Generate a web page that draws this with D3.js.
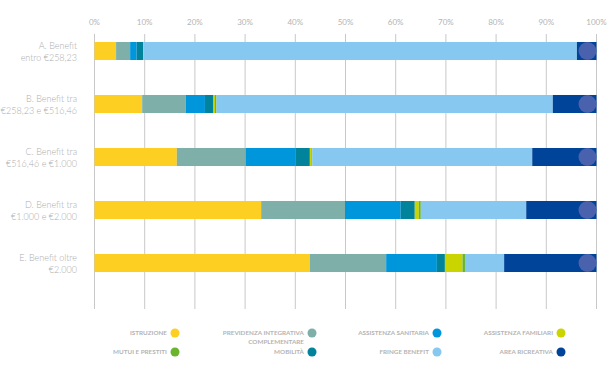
<!DOCTYPE html>
<html><head><meta charset="utf-8">
<script src="https://cdn.jsdelivr.net/npm/d3@7/dist/d3.min.js"></script>
<style>
html,body{margin:0;padding:0;background:#fff;}
svg{display:block;font-family:"Lato","Open Sans",sans-serif;}
</style></head>
<body><svg id="c" width="609" height="365"></svg>
<script>
const categories = [
  ["A. Benefit", "entro €258,23"],
  ["B. Benefit tra", "€258,23 e €516,46"],
  ["C.  Benefit tra", "€516,46 e €1.000"],
  ["D. Benefit tra", "€1.000 e €2.000"],
  ["E. Benefit oltre", "€2.000"]
];
const seriesNames = ["ISTRUZIONE","PREVIDENZA INTEGRATIVA COMPLEMENTARE","ASSISTENZA SANITARIA","MOBILITÀ","ASSISTENZA FAMILIARI","MUTUI E PRESTITI","FRINGE BENEFIT","AREA RICREATIVA"];
const seriesColors = ["#fdcf22","#7fafa9","#0096dc","#00839b","#c9d400","#6ab42e","#86c8ef","#00449a"];
const istruzione  = [4.3, 9.5, 16.4, 33.2, 42.9];
const previdenza  = [2.8, 8.7, 13.7, 16.7, 15.2];
const sanitaria   = [1.3, 3.8, 10.0, 11.1, 10.1];
const mobilita    = [1.3, 1.7, 2.8, 2.8, 1.6];
const familiari   = [0.0, 0.3, 0.3, 0.8, 3.5];
const mutui       = [0.0, 0.3, 0.2, 0.4, 0.5];
const fringe      = [86.4, 67.0, 43.8, 21.0, 7.8];
const ricreativa  = [3.9, 8.7, 12.8, 14.0, 18.4];
const tickValues = [0,10,20,30,40,50,60,70,80,90,100];
const tickLabels = ["0%","10%","20%","30%","40%","50%","60%","70%","80%","90%","100%"];
const legendLayout = [
  {s:0,col:0,row:0},{s:1,col:1,row:0},{s:2,col:2,row:0},{s:4,col:3,row:0},
  {s:5,col:0,row:1},{s:3,col:1,row:1},{s:6,col:2,row:1},{s:7,col:3,row:1}
];

const values = [istruzione, previdenza, sanitaria, mobilita, familiari, mutui, fringe, ricreativa];
const svg = d3.select("#c");
const x = d3.scaleLinear().domain([0,100]).range([94.5,596.5]);
const y = d3.scaleBand().domain(d3.range(categories.length)).range([24.5,289.5]).paddingInner(0.66).paddingOuter(0.33);

svg.append("g").selectAll("line").data(tickValues).join("line")
  .attr("x1",d=>x(d)).attr("x2",d=>x(d)).attr("y1",34).attr("y2",309)
  .attr("stroke","#c8c8c8").attr("stroke-width",1);
svg.append("g").selectAll("text").data(tickValues).join("text")
  .attr("x",d=>x(d)).attr("y",24.5).attr("text-anchor","middle")
  .attr("font-size",8).attr("fill","#b4b4b4").text((d,i)=>tickLabels[i]);

const rows = categories.map((c,i)=>{
  let acc=0; const segs=[];
  values.forEach((arr,s)=>{ segs.push({s, x0:acc, x1:acc+arr[i]}); acc+=arr[i]; });
  const tot = acc; segs.forEach(d=>{d.x0=d.x0/tot*100; d.x1=d.x1/tot*100;});
  return segs;
});
const bh = y.bandwidth();
rows.forEach((segs,i)=>{
  svg.append("g").selectAll("rect").data(segs.filter(d=>d.x1>d.x0)).join("rect")
    .attr("x",d=>x(d.x0)).attr("width",d=>x(d.x1)-x(d.x0))
    .attr("y",y(i)).attr("height",bh).attr("fill",d=>seriesColors[d.s]);
  svg.append("circle").attr("cx",x(100)-9).attr("cy",y(i)+bh/2).attr("r",9).attr("fill","#4a61ae");
});

categories.forEach((lines,i)=>{
  const t = svg.append("text").attr("text-anchor","end").attr("font-size",9).attr("font-weight",300).attr("fill","#adadad");
  lines.forEach((l,j)=>t.append("tspan").attr("x",77).attr("y",y(i)+bh/2-2+j*11.5).text(l));
});

const colX = [175, 312, 437, 561];
const rowY = [333, 352];
legendLayout.forEach(it=>{
  const cx = colX[it.col], cy = rowY[it.row];
  svg.append("circle").attr("cx",cx).attr("cy",cy).attr("r",4.5).attr("fill",seriesColors[it.s]);
  const t = svg.append("text").attr("text-anchor","end").attr("font-size",6.3).attr("font-weight","bold").attr("fill","#b4b4b4");
  const name = seriesNames[it.s];
  if (it.s===1){
    t.append("tspan").attr("x",cx-8).attr("y",cy+2.3).text("PREVIDENZA INTEGRATIVA");
    t.append("tspan").attr("x",cx-8).attr("y",cy+11.3).text("COMPLEMENTARE");
  } else {
    t.append("tspan").attr("x",cx-8).attr("y",cy+2.3).text(name);
  }
});
</script></body></html>
